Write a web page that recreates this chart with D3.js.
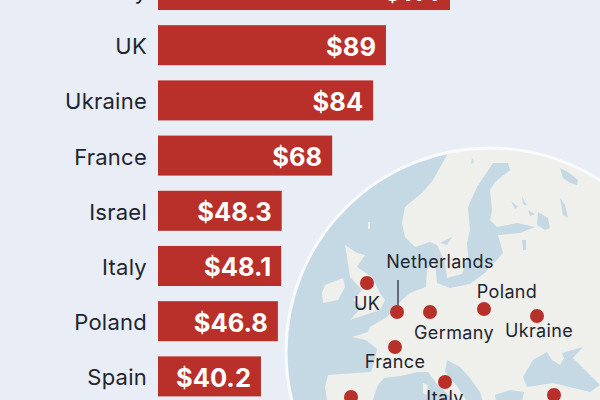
<!DOCTYPE html>
<html>
<head>
<meta charset="utf-8">
<script src="https://cdn.jsdelivr.net/npm/d3@7"></script>
<style>
  html, body { margin: 0; padding: 0; background: #e9edf6; overflow: hidden; }
  svg { display: block; font-family: Inter, "Open Sans", sans-serif; }
</style>
</head>
<body>
<svg id="chart" width="600" height="400"></svg>
<script>
// Spending by country, in billions of dollars
const countries = ["Germany", "UK", "Ukraine", "France", "Israel", "Italy", "Poland", "Spain"];
const spending = [114, 89, 84, 68, 48.3, 48.1, 46.8, 40.2];
const valueLabels = ["$114", "$89", "$84", "$68", "$48.3", "$48.1", "$46.8", "$40.2"];

// Marked places on the inset map, as [longitude, latitude] on its schematic grid
const placeNames = ["UK", "Netherlands", "Germany", "Poland", "Ukraine", "France", "Italy", "Spain", "Turkey"];
const placeCoords = [[-4.6, 54.7], [1.4, 51.8], [8, 51.8], [18.8, 52.1], [29.4, 51.4], [1, 48.3], [11, 44.8], [-7.8, 43.3], [32.8, 43.5]];
const placeLabelShift = [[0, 27], [43, -44], [24, 27], [23, -11], [2, 21], [0, 21], [0, 22], null, null];

// Simplified coastlines of the inset map
const mainland = [[11.4, 71], [11.4, 67.5], [8.6, 65], [6.6, 63.8], [3, 62.3], [2.4, 60.7], [3, 59.3], [5, 58.3], [8, 58.8], [9.4, 58.5], [8.8, 56.8], [7.4, 56], [7.2, 54.3], [4, 53.7], [2.4, 53], [-0.6, 51.3], [-4, 50.3], [-4.4, 49.8], [-7.6, 49.3], [-4.8, 49], [-2.6, 48.1], [-3.2, 46.7], [-3.8, 45.8], [-12.4, 45.5], [-13, 44.3], [-12.6, 43], [-11, 40], [62, 40], [62, 71]];
const britain = [[-9, 58.5], [-6.6, 57.7], [-5, 57.5], [-6.6, 56.3], [-3.6, 55.3], [-2, 53.7], [-1, 53], [-2, 52], [-8, 51], [-5.6, 52.3], [-7.4, 53], [-5.6, 54], [-8, 55.3], [-8.4, 56.7]];
const ireland = [[-13, 54.5], [-9.4, 55.2], [-9, 54.3], [-10.4, 53], [-13.4, 52.7], [-13.6, 53.7]];
const corsica = [[6.6, 44.7], [7.6, 44.5], [7.4, 43.5], [6.6, 43.7]];
const shetland = [[-4.4, 60.8], [-4, 60.8], [-4, 60.1], [-4.4, 60.1]];

// Seas and lakes laid over the land
const baltic = [[20.6, 66.7], [23.6, 66.7], [24, 66], [21, 64.8], [20, 64], [20.4, 62], [20, 61], [21.4, 60.3], [25.4, 60.7], [29, 60.3], [26, 59.7], [21.6, 59.5], [22.6, 57.7], [21, 56.8], [20, 56.5], [19.2, 55.8], [16, 54.6], [12, 54.2], [9.4, 54.7], [9.2, 56], [8.8, 56.8], [9.4, 58.5], [11, 56.8], [11.4, 55.2], [14.4, 55.6], [15.6, 57.4], [15.4, 58.7], [16, 60], [15.6, 62.3], [17.4, 64.3]];
const westMed = [[-3.6, 42.8], [-2.4, 44.5], [-1.2, 45.2], [2, 45.4], [5.6, 45.8], [7.6, 45.8], [9.4, 44.6], [12.4, 43.2], [14.4, 41.6], [-6, 40.5]];
const adriatic = [[11.4, 47], [14, 46.3], [16, 45.2], [18, 43.8], [19.2, 41.8], [16, 41.8], [15, 43.2], [13.2, 44.5], [11, 45.8]];
const aegean = [[21, 43.5], [24, 44], [26.8, 43.8], [26, 41.8], [21.6, 41.8]];
const blackSea = [[26.6, 45.3], [28.6, 47], [31.4, 47.8], [32.4, 47], [34, 46.5], [34.8, 47.2], [34.4, 47.7], [38.6, 48.3], [36.6, 47.2], [42, 44.5], [40, 43.8], [32.6, 44.7], [27.4, 44.3]];
const whiteSea = [[34, 66.2], [35.6, 65.8], [37.6, 65], [37.4, 64.5], [36, 64.7], [34.6, 65.2]];
const ladoga = [[29.6, 61.8], [31.6, 61.2], [32, 60.2], [31, 60], [29.4, 60.5]];
const onega = [[34, 63.2], [35, 62.5], [35.6, 61.2], [34.6, 61.5]];
const peipus = [[26.4, 59], [27.2, 59], [27.2, 58], [26.6, 58]];
const vanern = [[10, 58.7], [12.4, 59.3], [11.4, 58.5]];
const swedishLakes = [[16.4, 67.2], [16.8, 66.8], [16.2, 66.6]];
const finnishLakes = [[24.2, 62.9], [25.6, 62.3], [25, 62.1]];
const finnishLakes2 = [[26.4, 63.4], [27.4, 62.4], [26.6, 62.6]];
const finnishLakes3 = [[27.6, 62], [29, 61.6], [28, 61.4]];

const width = 600, height = 400;
const svg = d3.select("#chart");

// Bars
const y = d3.scaleBand().domain(countries).range([-30, 396.4]).paddingInner(0.275).paddingOuter(0);
const x = d3.scaleLinear().domain([0, 114]).range([158, 450]);
const rows = countries.map((name, i) => ({ name, value: spending[i], label: valueLabels[i] }));

// Inset map
const lonX = d3.scaleLinear().domain([0, 20]).range([390, 490]);
const latY = d3.scaleLinear().domain([52, 83]).range([310, 0]);
const coast = d3.line().x(d => lonX(d[0])).y(d => latY(d[1])).curve(d3.curveLinearClosed);

const disc = { cx: 490, cy: 352, r: 204 };
svg.append("clipPath").attr("id", "disc-clip").append("circle").attr("cx", disc.cx).attr("cy", disc.cy).attr("r", disc.r);

const mapLayer = svg.append("g").attr("clip-path", "url(#disc-clip)");
mapLayer.append("rect").attr("width", width).attr("height", height).attr("fill", "#c4d9e3");
mapLayer.selectAll("path.land").data([mainland, britain, ireland, shetland]).join("path")
  .attr("class", "land").attr("d", coast).attr("fill", "#eff0ec");
mapLayer.selectAll("path.water")
  .data([baltic, westMed, adriatic, aegean, blackSea, whiteSea, ladoga, onega, peipus, vanern, swedishLakes, finnishLakes, finnishLakes2, finnishLakes3])
  .join("path").attr("class", "water").attr("d", coast).attr("fill", "#c4d9e3");
mapLayer.append("path").attr("d", coast(corsica)).attr("fill", "#eff0ec");

svg.append("circle").attr("cx", disc.cx).attr("cy", disc.cy).attr("r", disc.r)
  .attr("fill", "none").attr("stroke", "#f8fafc").attr("stroke-width", 3);

// Leader from the Netherlands label down to its marker
const nl = placeCoords[placeNames.indexOf("Netherlands")];
svg.append("line")
  .attr("x1", lonX(nl[0]) + 1).attr("x2", lonX(nl[0]) + 1)
  .attr("y1", latY(nl[1]) - 32).attr("y2", latY(nl[1]))
  .attr("stroke", "#1f2530").attr("stroke-width", 1.2);

svg.selectAll("circle.place").data(placeCoords).join("circle")
  .attr("class", "place")
  .attr("cx", d => lonX(d[0])).attr("cy", d => latY(d[1])).attr("r", 7)
  .attr("fill", "#b8302a");

svg.selectAll("text.place").data(placeNames.map((n, i) => ({ n, c: placeCoords[i], s: placeLabelShift[i] })).filter(d => d.s))
  .join("text").attr("class", "place")
  .attr("x", d => lonX(d.c[0]) + d.s[0]).attr("y", d => latY(d.c[1]) + d.s[1])
  .attr("text-anchor", "middle").attr("font-size", 18).attr("font-weight", 400).attr("letter-spacing", 0.35).attr("fill", "#1f2530")
  .text(d => d.n);

// Bars and their labels
svg.selectAll("rect.bar").data(rows).join("rect").attr("class", "bar")
  .attr("x", x(0)).attr("y", d => y(d.name))
  .attr("width", d => x(d.value) - x(0)).attr("height", y.bandwidth())
  .attr("fill", "#b83029");

svg.selectAll("text.value").data(rows).join("text").attr("class", "value")
  .attr("x", d => x(d.value) - 10).attr("y", d => y(d.name) + y.bandwidth() / 2 + 10.5)
  .attr("text-anchor", "end").attr("font-size", 25.5).attr("font-weight", 700).attr("fill", "#ffffff")
  .text(d => d.label);

svg.selectAll("text.country").data(rows).join("text").attr("class", "country")
  .attr("x", 147).attr("y", d => y(d.name) + y.bandwidth() / 2 + 9)
  .attr("text-anchor", "end").attr("font-size", 22).attr("font-weight", 400).attr("letter-spacing", 0.25).attr("fill", "#1f2530")
  .text(d => d.name);
</script>
</body>
</html>
